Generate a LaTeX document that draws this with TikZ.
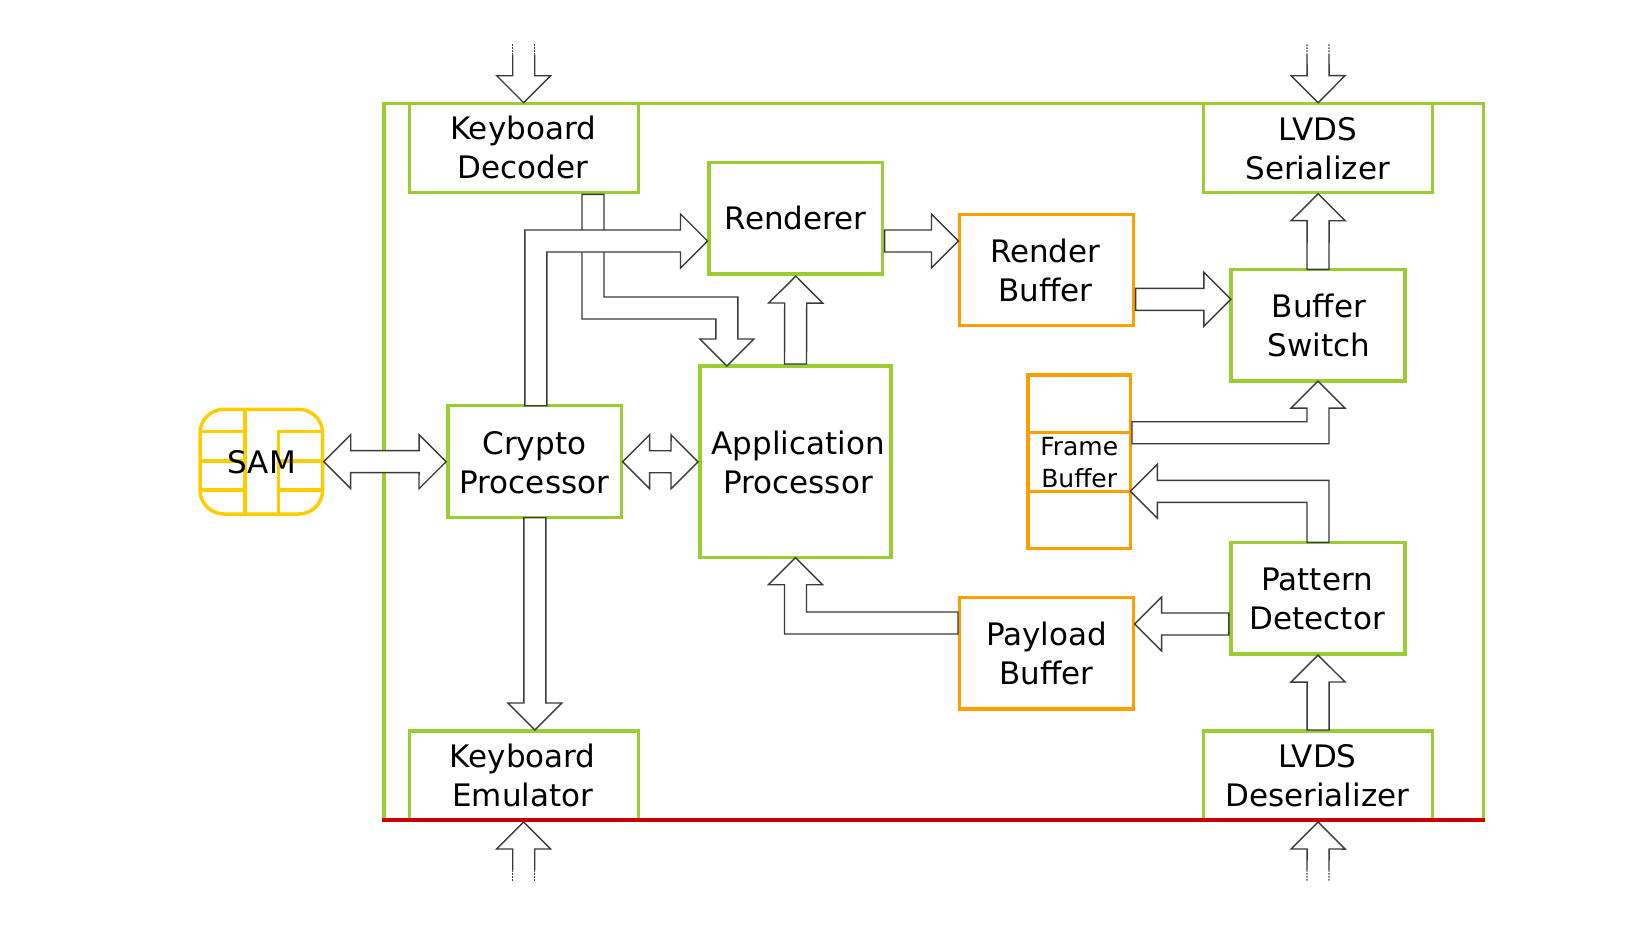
\documentclass[tikz,border=0pt]{standalone}
\usepackage{fontspec}
\setmainfont{DejaVu Sans}
\usetikzlibrary{calc}
\definecolor{grn}{HTML}{9ACD32}
\definecolor{org}{HTML}{FF9E00}
\definecolor{yel}{HTML}{FFCC00}
\definecolor{redl}{HTML}{CC0000}
\definecolor{arr}{HTML}{3A3A3A}
% text placed by offset (dx) and offset (dy, downwards) of the last baseline from the node centre
\newcommand\bt[3]{\raisebox{-#2pt}[0pt][0pt]{\makebox[0pt]{\kern#1pt\kern#1pt\begin{tabular}[b]{@{}c@{}}#3\end{tabular}}}}
\tikzset{
  wh/.style 2 args={minimum width=#1pt,minimum height=#2pt},
  base/.style={line width=3.5pt,inner sep=0pt,outer sep=0pt,font=\fontsize{31}{39}\selectfont,text=black},
  gbox/.style={base,draw=grn},
  obox/.style={base,draw=org},
  ftext/.style={font=\fontsize{25}{31.7}\selectfont},
  chip/.style={line width=3.5pt,draw=yel},
  blockarrow/.style={draw=arr,fill=white,line width=1.4pt,line join=miter},
  stubdots/.style={draw=arr,line width=1.1pt,dash pattern=on 1.5pt off 1.5pt}
}
% helpers computing the head of a block arrow arriving at (tB) from (tC)
\newcommand\headpts{%
  \coordinate (tH) at ($(tB)!27pt!(tC)$);
  \coordinate (tHL) at ($(tH)!11pt!90:(tB)$);
  \coordinate (tHLL) at ($(tH)!27pt!90:(tB)$);
  \coordinate (tHR) at ($(tH)!11pt!-90:(tB)$);
  \coordinate (tHRR) at ($(tH)!27pt!-90:(tB)$);
}
% straight block arrow
\newcommand\sarrow[2]{%
  \coordinate (tA) at (#1); \coordinate (tB) at (#2); \coordinate (tC) at (tA);
  \headpts
  \draw[blockarrow] ($(tA)!11pt!90:(tB)$) -- (tHL) -- (tHLL) -- (tB) -- (tHRR) -- (tHR) -- ($(tA)!11pt!-90:(tB)$) -- cycle;
}
% block arrow with one bend at #2; #4,#5 = canvas offset of the corner on the left of travel
\newcommand\barrow[5]{%
  \coordinate (tA) at (#1); \coordinate (tC) at (#2); \coordinate (tB) at (#3);
  \headpts
  \draw[blockarrow] ($(tA)!11pt!90:(tC)$) -- ([xshift=#4pt,yshift=#5pt]tC) -- (tHL) -- (tHLL) -- (tB) -- (tHRR) -- (tHR) -- ([xshift=-#4pt,yshift=-#5pt]tC) -- ($(tA)!11pt!-90:(tC)$) -- cycle;
}
% double-headed block arrow
\newcommand\darrow[2]{%
  \coordinate (tA) at (#1); \coordinate (tB) at (#2); \coordinate (tC) at (tA);
  \headpts
  \coordinate (uH) at ($(tA)!27pt!(tB)$);
  \draw[blockarrow] (tA) -- ($(uH)!27pt!90:(tB)$) -- ($(uH)!11pt!90:(tB)$) -- (tHL) -- (tHLL) -- (tB) -- (tHRR) -- (tHR) -- ($(uH)!11pt!-90:(tB)$) -- ($(uH)!27pt!-90:(tB)$) -- cycle;
}
% incoming arrow with an open, dotted tail
\newcommand\stub[2]{%
  \coordinate (tA) at (#1); \coordinate (tB) at (#2); \coordinate (tC) at (tA);
  \headpts
  \coordinate (tS) at ($(tA)!10pt!(tB)$);
  \fill[white] ($(tS)!11pt!90:(tB)$) -- (tHL) -- (tHLL) -- (tB) -- (tHRR) -- (tHR) -- ($(tS)!11pt!-90:(tB)$) -- cycle;
  \draw[blockarrow,fill=none] ($(tS)!11pt!90:(tB)$) -- (tHL) -- (tHLL) -- (tB) -- (tHRR) -- (tHR) -- ($(tS)!11pt!-90:(tB)$);
  \draw[stubdots] ($(tA)!11pt!90:(tB)$) -- ($(tS)!11pt!90:(tB)$);
  \draw[stubdots] ($(tA)!11pt!-90:(tB)$) -- ($(tS)!11pt!-90:(tB)$);
}
\begin{document}
\begin{tikzpicture}[x=1pt,y=-1pt]
\useasboundingbox (0,0) rectangle (1652,929);
% outer frame
\node[gbox,wh={1099.5}{716}] (frame) at (933.75,461.7) {};
% blocks
\node[gbox,wh={229}{89}] (kd) at (524,148.2) {\bt{-1}{30}{Keyboard\\Decoder}};
\node[gbox,wh={229}{89}] (ls) at (1318.1,148.2) {\bt{-0.5}{31}{LVDS\\Serializer}};
\node[gbox,wh={173.6}{111.7}] (rd) at (795.8,218.2) {\bt{-0.1}{10.8}{Renderer}};
\node[obox,wh={174.1}{111.4}] (rb) at (1046.5,270) {\bt{-1.25}{31}{Render\\Buffer}};
\node[gbox,wh={174.2}{111.7}] (bs) at (1318,325.2) {\bt{0.8}{31}{Buffer\\Switch}};
\node[gbox,wh={173.6}{112}] (cp) at (534.85,461.7) {\bt{-0.5}{31.3}{Crypto\\Processor}};
\node[gbox,wh={191}{191.7}] (ap) at (795.5,461.85) {\bt{2.6}{31.7}{Application\\Processor}};
\node[obox,wh={102.4}{57.7}] (fbt) at (1079.2,403.85) {};
\node[obox,wh={102.4}{58.6},ftext] (fbm) at (1079.2,462) {\bt{0}{25.5}{Frame\\Buffer}};
\node[obox,wh={102.4}{57.4}] (fbb) at (1079.2,520) {};
\node[gbox,wh={174.2}{111.7}] (pd) at (1318,598.2) {\bt{-0.75}{31}{Pattern\\Detector}};
\node[obox,wh={174.1}{111.7}] (pb) at (1046.5,653.2) {\bt{0}{31}{Payload\\Buffer}};
\node[gbox,wh={229}{88.7}] (ke) at (524,775.35) {\bt{-1.25}{31.6}{Keyboard\\Emulator}};
\node[gbox,wh={229}{88.7}] (ld) at (1318.1,775.35) {\bt{-0.8}{31.6}{LVDS\\Deserializer}};
% chip contacts
\draw[chip] (245,409.3) -- (245,514);
\draw[chip] (322.7,431.7) -- (278.3,431.7) -- (278.3,514);
\draw[chip] (200,431.7) -- (245,431.7);
\draw[chip] (200,461) -- (245,461);
\draw[chip] (200,490) -- (245,490);
\draw[chip] (278.3,461) -- (322.7,461);
\draw[chip] (278.3,490) -- (322.7,490);
\node[base,draw=yel,rounded corners=24pt,wh={122.7}{104.7}] (sam) at (261.35,461.65) {\bt{0.5}{11.5}{SAM}};
% free ends and routing levels
\coordinate (kdin) at (523.7,44.3);
\coordinate (lsin) at (1318,44.3);
\coordinate (kein) at (523.7,880.7);
\coordinate (ldin) at (1318,880.7);
\coordinate (lvlA) at (0,241);
\coordinate (lvlB) at (0,299.3);
\coordinate (lvlC) at (0,624);
\coordinate (lvlD) at (0,623);
% connectors
\stub{kdin}{[yshift=1pt]kd.north -| kdin}
\stub{lsin}{[yshift=1pt]ls.north}
\stub{kein}{[yshift=-2.3pt]ke.south -| kein}
\stub{ldin}{[yshift=-2.3pt]ld.south}
% Keyboard Decoder to Application Processor (two bends)
\coordinate (kda) at ([xshift=69pt,yshift=-1.6pt]kd.south);
\coordinate (kdb) at ([xshift=-68.7pt,yshift=58pt]ap.north);
\coordinate (kdc) at ([xshift=-68.7pt]ap.north);
\draw[blockarrow] ([xshift=-11pt]kda) -- ([xshift=-11pt,yshift=-11pt]kda |- kdb) -- ([xshift=-11pt,yshift=-11pt]kdb) -- ([xshift=-11pt,yshift=27pt]kdc) -- ([xshift=-27pt,yshift=27pt]kdc) -- (kdc) -- ([xshift=27pt,yshift=27pt]kdc) -- ([xshift=11pt,yshift=27pt]kdc) -- ([xshift=11pt,yshift=11pt]kdb) -- ([xshift=11pt,yshift=11pt]kda |- kdb) -- ([xshift=11pt]kda) -- cycle;
% Crypto Processor to Renderer
\barrow{[xshift=1pt]cp.north}{[xshift=1pt]cp.north |- lvlA}{[xshift=-1.5pt]rd.west |- lvlA}{-11}{11}
\sarrow{[yshift=2pt]ap.north}{[yshift=-2pt]rd.south}
\sarrow{[xshift=2pt]rd.east |- lvlA}{[xshift=-1pt]rb.west |- lvlA}
\sarrow{[xshift=2pt]rb.east |- lvlB}{bs.west |- lvlB}
\sarrow{bs.north}{[yshift=-1pt]ls.south}
\barrow{[xshift=1.6pt]fbm.north east}{fbm.north east -| bs.south}{bs.south}{-11}{11}
\barrow{pd.north}{pd.north |- fbm.south east}{fbm.south east}{-11}{-11}
\sarrow{[xshift=-2pt]pd.west |- lvlC}{[xshift=1pt]pb.east |- lvlC}
\barrow{[xshift=-1.5pt]pb.west |- lvlD}{ap.south |- lvlD}{ap.south}{-11}{-11}
\sarrow{[yshift=1pt]ld.north}{[yshift=-1pt]pd.south}
\sarrow{cp.south}{[yshift=1pt]cp.south |- ke.north}
\darrow{[xshift=1pt]sam.east}{[xshift=-2pt]cp.west}
\darrow{[xshift=1pt]cp.east}{[xshift=-2pt]ap.west}
% bottom edge of the frame
\draw[draw=redl,line width=3.8pt] ([xshift=-1.75pt]frame.south west) -- ([xshift=1.75pt]frame.south east);
\end{tikzpicture}
\end{document}
